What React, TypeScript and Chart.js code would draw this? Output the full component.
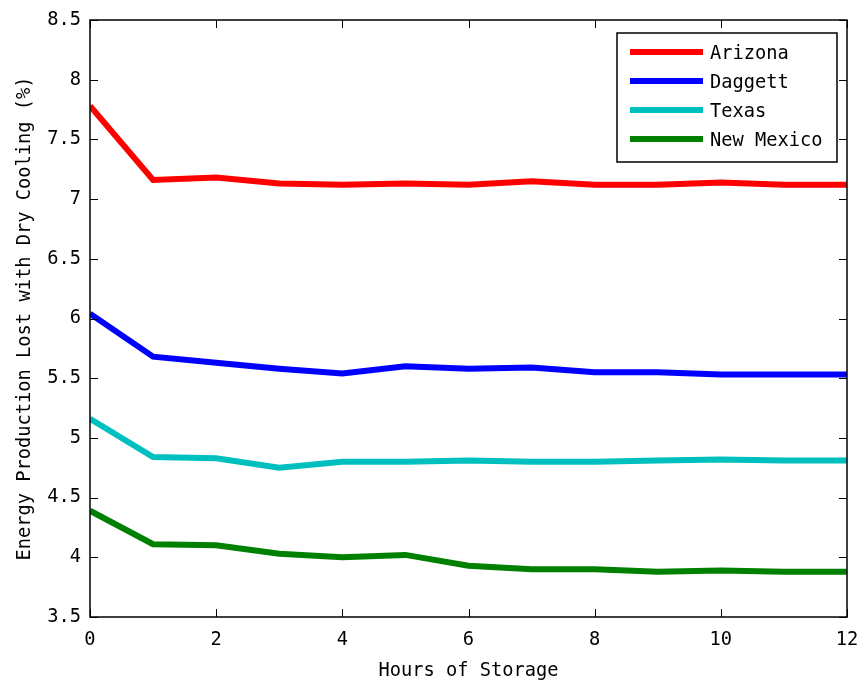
import React, { useEffect, useRef } from "react";
import { Chart, registerables } from "chart.js";

Chart.register(...registerables);

const hours = [0, 1, 2, 3, 4, 5, 6, 7, 8, 9, 10, 11, 12];
const arizona = [7.78, 7.16, 7.18, 7.13, 7.12, 7.13, 7.12, 7.15, 7.12, 7.12, 7.14, 7.12, 7.12];
const daggett = [6.04, 5.68, 5.63, 5.58, 5.54, 5.60, 5.58, 5.59, 5.55, 5.55, 5.53, 5.53, 5.53];
const texas = [5.16, 4.84, 4.83, 4.75, 4.80, 4.80, 4.81, 4.80, 4.80, 4.81, 4.82, 4.81, 4.81];
const newMexico = [4.39, 4.11, 4.10, 4.03, 4.00, 4.02, 3.93, 3.90, 3.90, 3.88, 3.89, 3.88, 3.88];
const seriesNames = ["Arizona", "Daggett", "Texas", "New Mexico"];
const seriesColors = ["#ff0000", "#0000ff", "#00bfbf", "#008000"];
const xTitle = "Hours of Storage";
const yTitle = "Energy Production Lost with Dry Cooling (%)";

const FONT = "'DejaVu Sans Mono', monospace";
const FONT_SIZE = 18.7;

const frameAndLegend = {
  id: "frameAndLegend",
  afterDraw(chart: any) {
    const { ctx, chartArea } = chart;
    const { left, right, top, bottom } = chartArea;
    const xs = chart.scales.x;
    const ys = chart.scales.y;
    ctx.save();
    ctx.strokeStyle = "#000";
    ctx.lineWidth = 1.5;
    ctx.strokeRect(left, top, right - left, bottom - top);
    const tl = 8;
    ctx.beginPath();
    xs.ticks.forEach((t: any) => {
      const px = Math.round(xs.getPixelForValue(t.value)) + 0.5;
      ctx.moveTo(px, bottom);
      ctx.lineTo(px, bottom - tl);
      ctx.moveTo(px, top);
      ctx.lineTo(px, top + tl);
    });
    ys.ticks.forEach((t: any) => {
      const py = Math.round(ys.getPixelForValue(t.value)) + 0.5;
      ctx.moveTo(left, py);
      ctx.lineTo(left + tl, py);
      ctx.moveTo(right, py);
      ctx.lineTo(right - tl, py);
    });
    ctx.lineWidth = 1;
    ctx.stroke();

    // legend
    const bx = right - 230;
    const by = top + 13;
    const bw = 220;
    const bh = 129;
    ctx.fillStyle = "#fff";
    ctx.fillRect(bx, by, bw, bh);
    ctx.lineWidth = 1.5;
    ctx.strokeStyle = "#000";
    ctx.strokeRect(bx, by, bw, bh);
    ctx.font = `${FONT_SIZE}px ${FONT}`;
    ctx.textBaseline = "middle";
    ctx.textAlign = "left";
    chart.data.datasets.forEach((ds: any, i: number) => {
      const ry = by + 19 + i * 29;
      ctx.beginPath();
      ctx.strokeStyle = ds.borderColor;
      ctx.lineWidth = 6;
      ctx.moveTo(bx + 13, ry);
      ctx.lineTo(bx + 86, ry);
      ctx.stroke();
      ctx.fillStyle = "#000";
      ctx.fillText(ds.label, bx + 93, ry + 2);
    });
    ctx.restore();
  },
};

export default function App() {
  const ref = useRef<HTMLCanvasElement | null>(null);
  useEffect(() => {
    if (!ref.current) return;
    const allSeries = [arizona, daggett, texas, newMexico];
    const chart = new Chart(ref.current, {
      type: "line",
      data: {
        datasets: allSeries.map((vals, i) => ({
          label: seriesNames[i],
          data: hours.map((h, j) => ({ x: h, y: vals[j] })),
          borderColor: seriesColors[i],
          backgroundColor: seriesColors[i],
          borderWidth: 6,
          pointRadius: 0,
          tension: 0,
          fill: false,
        })),
      },
      options: {
        responsive: false,
        animation: false,
        layout: { padding: { top: 20, right: 12, left: 0, bottom: 0 } },
        plugins: { legend: { display: false }, tooltip: { enabled: false } },
        scales: {
          x: {
            type: "linear",
            min: 0,
            max: 12,
            grid: { display: false, drawTicks: false },
            border: { display: false },
            ticks: {
              stepSize: 2,
              padding: 12,
              color: "#000",
              maxRotation: 0,
              font: { family: FONT, size: FONT_SIZE },
              callback: (v: any) => String(Number(v)),
            },
            title: {
              display: true,
              text: xTitle,
              color: "#000",
              padding: { top: 6, bottom: 0 },
              font: { family: FONT, size: FONT_SIZE },
            },
            afterFit(scale: any) {
              scale.height = 65;
              scale.paddingRight = 0;
              scale.paddingLeft = 0;
            },
          },
          y: {
            type: "linear",
            min: 3.5,
            max: 8.5,
            grid: { display: false, drawTicks: false },
            border: { display: false },
            ticks: {
              stepSize: 0.5,
              padding: 9,
              color: "#000",
              font: { family: FONT, size: FONT_SIZE },
              callback: (v: any) => String(Number(v)),
            },
            title: {
              display: true,
              text: yTitle,
              color: "#000",
              padding: { top: 14, bottom: 0 },
              font: { family: FONT, size: FONT_SIZE },
            },
            afterFit(scale: any) {
              scale.width = 90;
              scale.paddingTop = 0;
              scale.paddingBottom = 0;
            },
          },
        },
      },
      plugins: [frameAndLegend],
    });
    return () => chart.destroy();
  }, []);
  return (
    <canvas
      ref={ref}
      width={859}
      height={682}
      style={{ position: "absolute", left: 0, top: 0, display: "block", background: "#fff" }}
    />
  );
}
